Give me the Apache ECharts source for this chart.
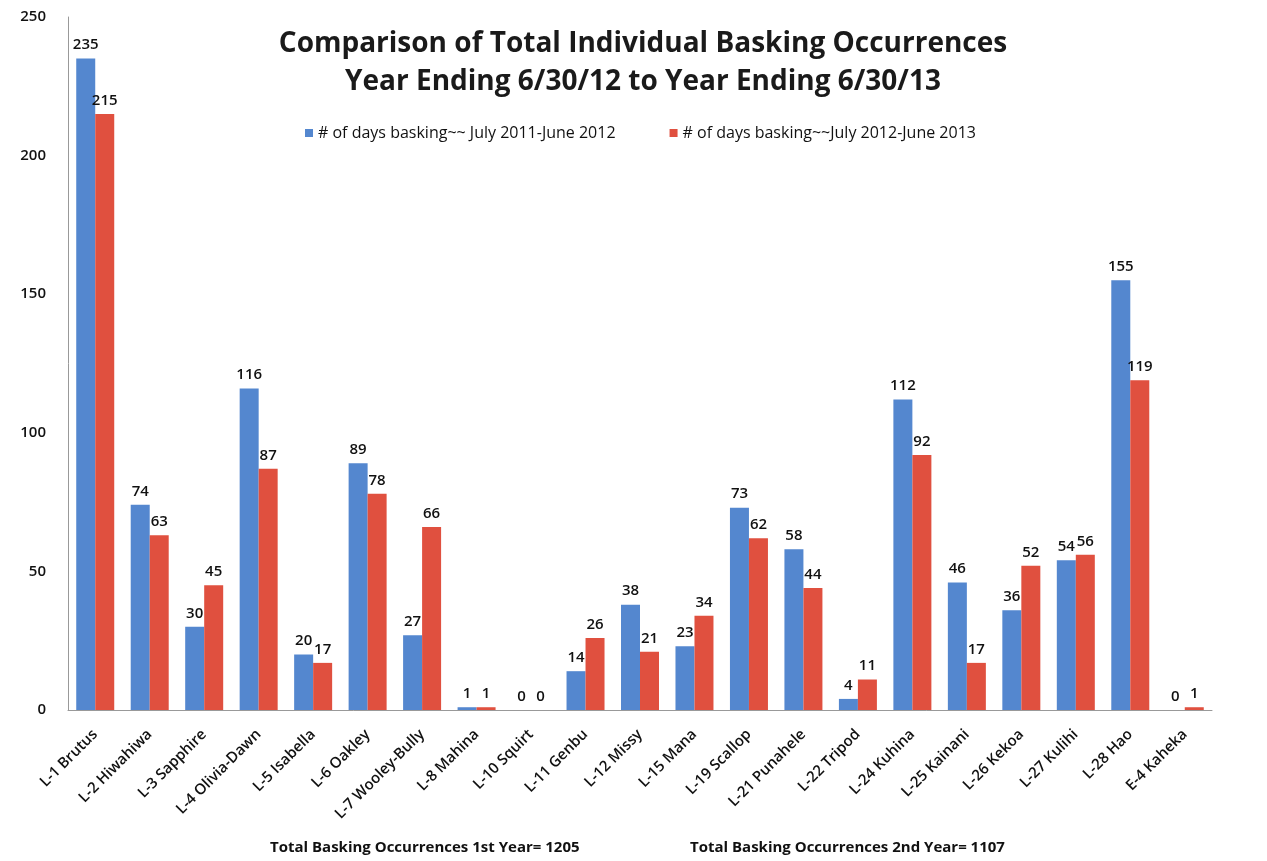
<!DOCTYPE html>
<html>
<head>
<meta charset="utf-8">
<script src="https://cdn.jsdelivr.net/npm/echarts@6/dist/echarts.min.js"></script>
<style>html,body{margin:0;padding:0;background:#fff;}#c{width:1267px;height:861px;}</style>
</head>
<body>
<div id="c"></div>
<script>
const categories = ["L-1 Brutus","L-2 Hiwahiwa","L-3 Sapphire","L-4 Olivia-Dawn","L-5 Isabella","L-6 Oakley","L-7 Wooley-Bully","L-8 Mahina","L-10 Squirt","L-11 Genbu","L-12 Missy","L-15 Mana","L-19 Scallop","L-21 Punahele","L-22 Tripod","L-24 Kuhina","L-25 Kainani","L-26 Kekoa","L-27 Kulihi","L-28 Hao","E-4 Kaheka"];
const year1 = [235,74,30,116,20,89,27,1,0,14,38,23,73,58,4,112,46,36,54,155,0];
const year2 = [215,63,45,87,17,78,66,1,0,26,21,34,62,44,11,92,17,52,56,119,1];
const seriesNames = ["# of days basking~~ July 2011-June 2012","# of days basking~~July 2012-June 2013"];
const titleText = "Comparison of Total Individual Basking Occurrences\nYear Ending 6/30/12 to Year Ending 6/30/13";
const footer1 = "Total Basking Occurrences 1st Year= 1205";
const footer2 = "Total Basking Occurrences 2nd Year= 1107";

const font = "'Open Sans', 'Noto Sans', sans-serif";
const chart = echarts.init(document.getElementById('c'), null, {renderer:'canvas'});
const labelCfg = {show:true, position:'top', color:'#111', fontFamily:font, fontSize:15, fontWeight:600, distance:6};
chart.setOption({
  backgroundColor:'#fff',
  animation:false,
  title:{text:titleText, left:638, textAlign:'center', top:20,
    textStyle:{fontFamily:font, fontSize:28, fontWeight:'bold', color:'#1a1a1a', lineHeight:38}},
  legend:{top:120, left:300, itemWidth:8, itemHeight:8, itemGap:54, icon:'rect',
    textStyle:{fontFamily:font, fontSize:16, color:'#111'}, data:seriesNames},
  grid:{left:68, right:55, top:17, bottom:151, containLabel:false},
  xAxis:{type:'category', data:categories,
    axisLine:{lineStyle:{color:'#999'}}, axisTick:{show:false},
    axisLabel:{rotate:45, interval:0, fontFamily:font, fontSize:15, fontWeight:600, color:'#111', margin:22}},
  yAxis:{type:'value', min:0, max:250, interval:50, splitLine:{show:false},
    axisLine:{show:true, lineStyle:{color:'#999'}}, axisTick:{show:false},
    axisLabel:{fontFamily:font, fontSize:15, fontWeight:600, color:'#111', margin:22}},
  series:[
    {name:seriesNames[0], type:'bar', data:year1, barWidth:19, barGap:'0%',
      itemStyle:{color:'#5487cf'}, label:labelCfg},
    {name:seriesNames[1], type:'bar', data:year2, barWidth:19,
      itemStyle:{color:'#e0503f'}, label:labelCfg}
  ],
  graphic:[
    {type:'text', left:270, top:840, style:{text:footer1, fontFamily:font, fontSize:15, fontWeight:'bold', fill:'#111'}},
    {type:'text', left:690, top:840, style:{text:footer2, fontFamily:font, fontSize:15, fontWeight:'bold', fill:'#111'}}
  ]
});
</script>
</body>
</html>
